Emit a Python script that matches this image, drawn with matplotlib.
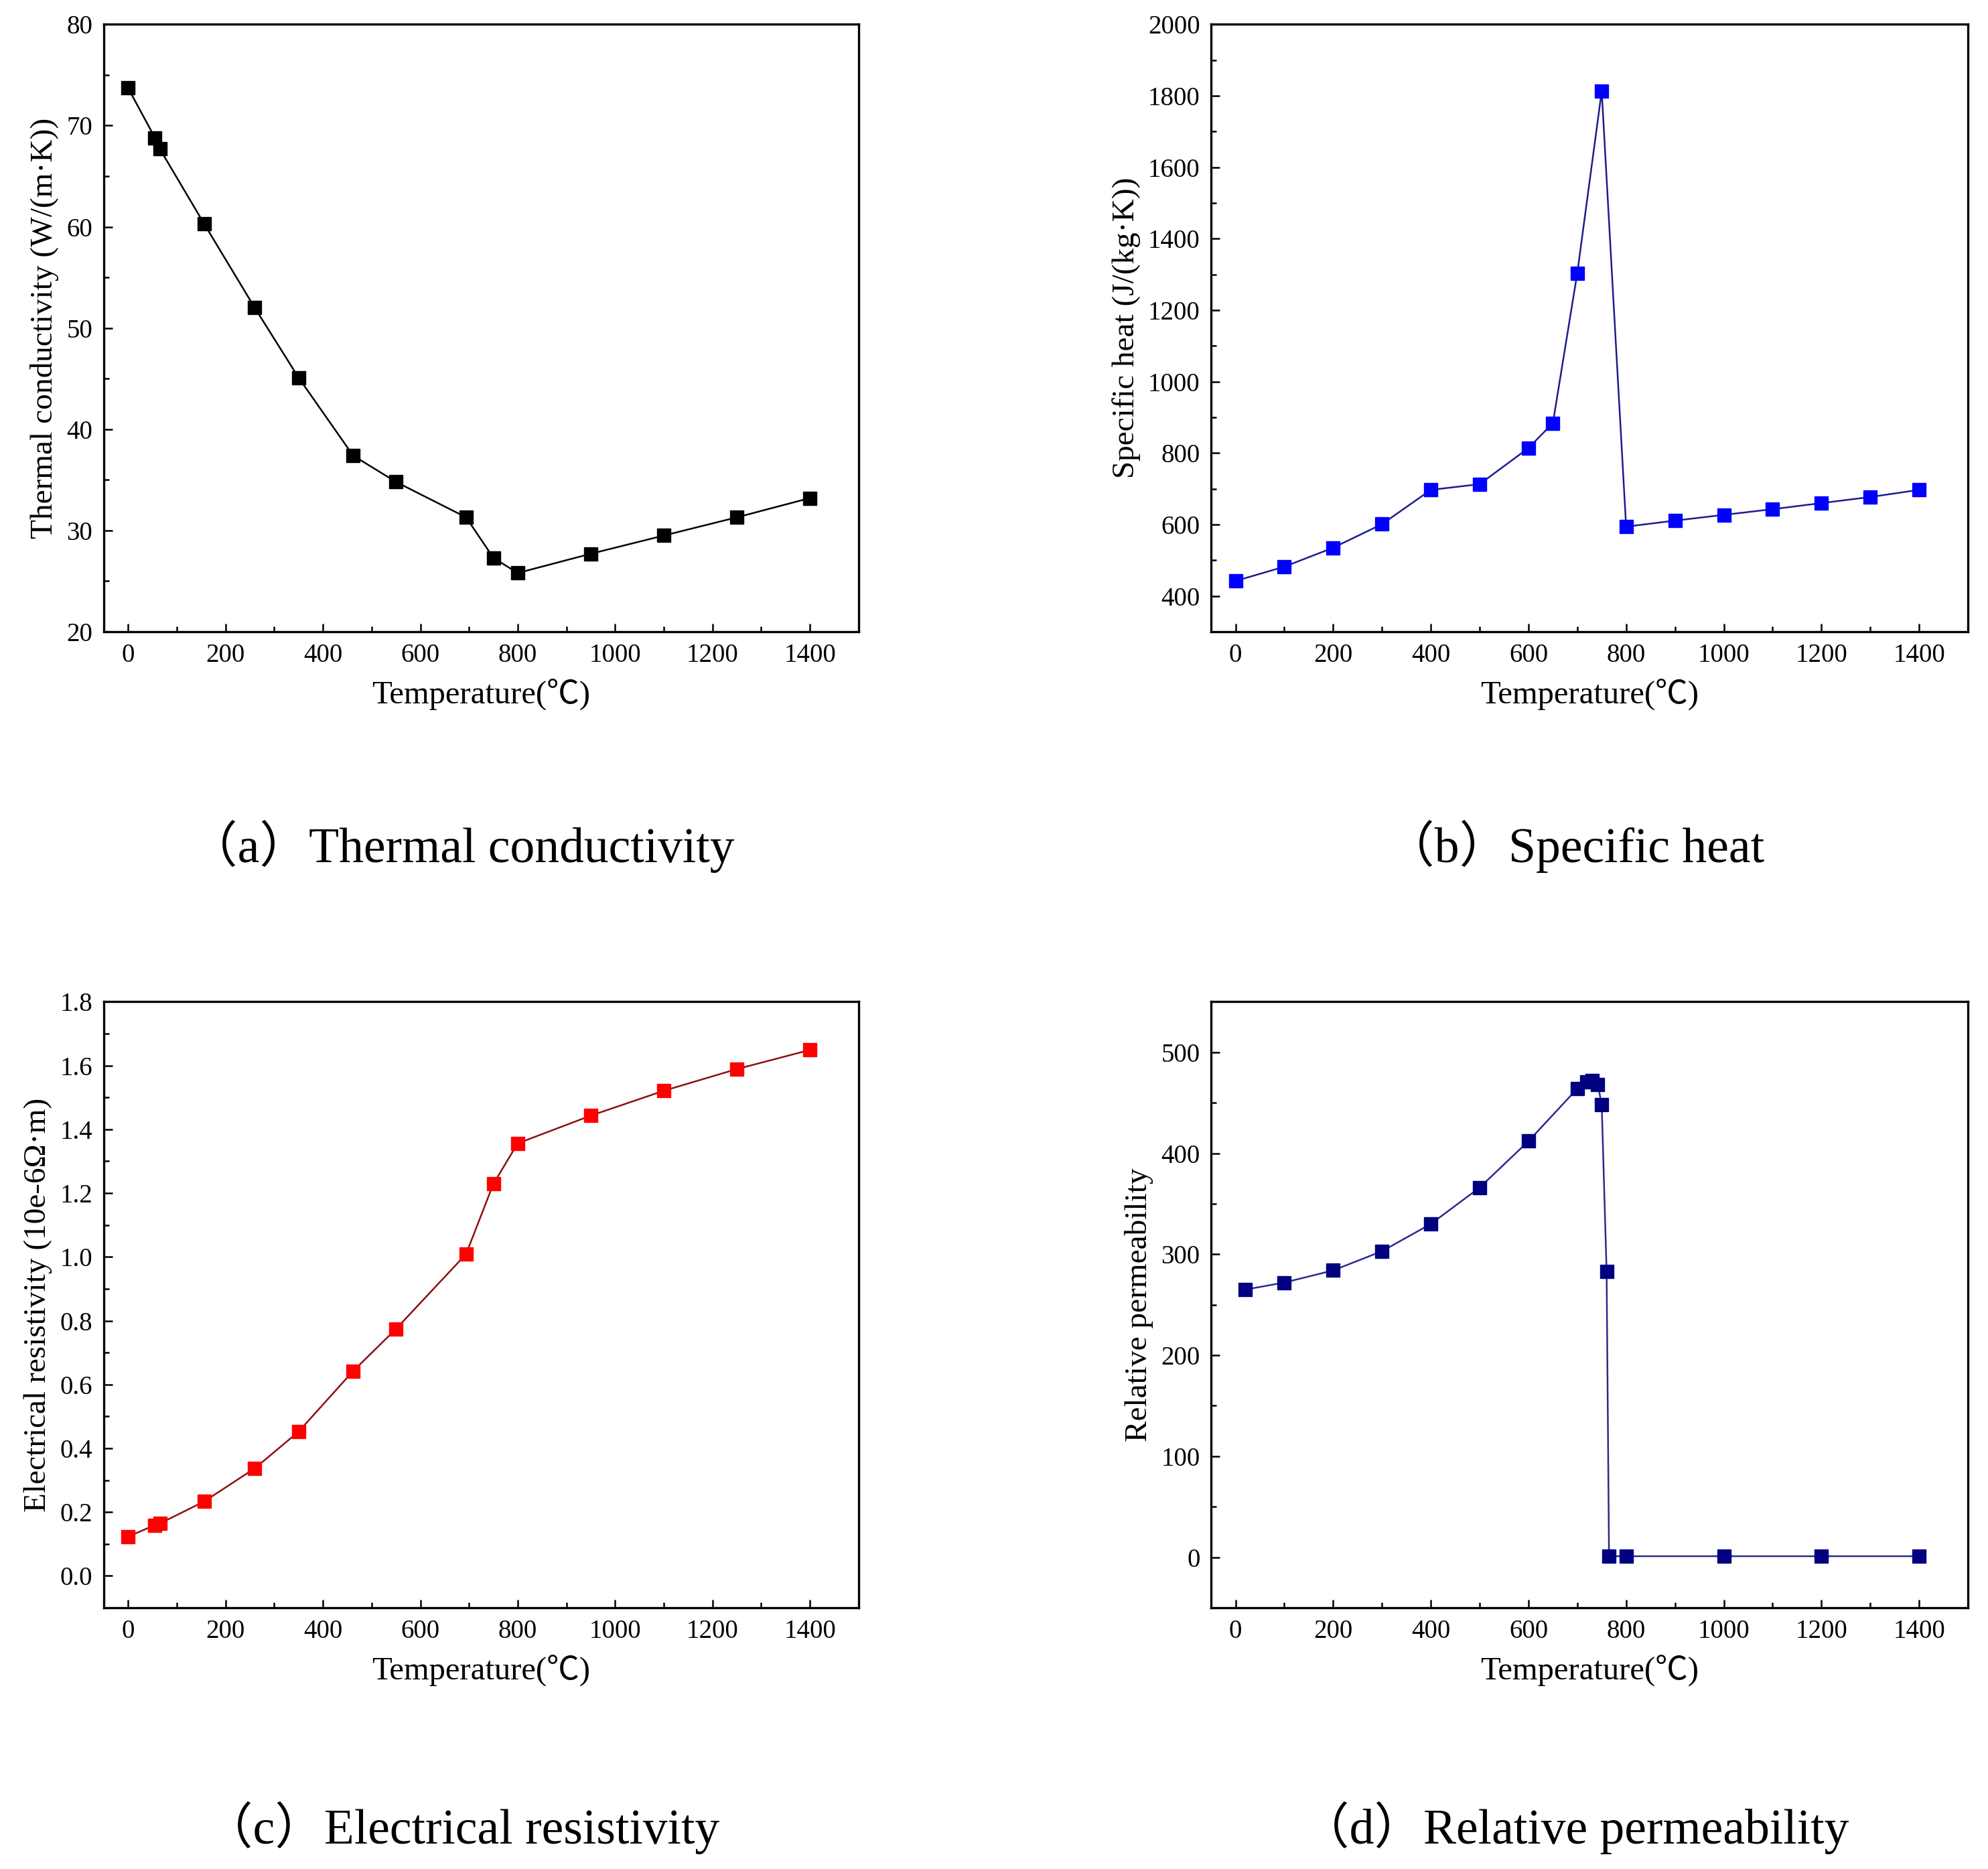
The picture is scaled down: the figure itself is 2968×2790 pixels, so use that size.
import matplotlib
matplotlib.use("Agg")
import matplotlib.pyplot as plt
from matplotlib.ticker import MultipleLocator

plt.rcParams['font.family'] = ['Liberation Serif', 'Noto Sans CJK SC']

# (a) thermal conductivity / (c) electrical resistivity share the same temperatures
temp_ac = [0, 55, 65, 156, 260, 350, 462, 550, 694, 750, 800, 950, 1100, 1250, 1400]
conductivity = [73.7, 68.8, 67.7, 60.3, 52.0, 45.1, 37.4, 34.8, 31.3, 27.3, 25.8, 27.7, 29.5, 31.3, 33.2]
resistivity = [0.123, 0.159, 0.164, 0.233, 0.337, 0.452, 0.642, 0.774, 1.009, 1.229, 1.356, 1.443, 1.521, 1.589, 1.649]

# (b) specific heat
temp_b = [0, 100, 200, 300, 400, 500, 600, 650, 700, 750, 800, 900, 1000, 1100, 1200, 1300, 1400]
specific_heat = [442, 482, 535, 601, 697, 713, 814, 884, 1304, 1813, 594, 611, 627, 643, 660, 677, 697]

# (d) relative permeability
temp_d = [20, 100, 200, 300, 400, 500, 600, 700, 720, 730, 742, 750, 760, 765, 800, 1000, 1200, 1400]
permeability = [265, 272, 284, 303, 330, 366, 412, 464, 471, 472, 468, 448, 283, 1, 1, 1, 1, 1]

captions = ["（a）Thermal conductivity", "（b）Specific heat",
            "（c）Electrical resistivity", "（d）Relative permeability"]

fig = plt.figure(figsize=(29.68, 27.9), dpi=100)

def setup(ax, ylim, ymajor, yminor, ylabel, yfmt=None):
    ax.set_xlim(-50, 1500)
    ax.set_ylim(*ylim)
    ax.xaxis.set_major_locator(MultipleLocator(200))
    ax.xaxis.set_minor_locator(MultipleLocator(100))
    ax.yaxis.set_major_locator(MultipleLocator(ymajor))
    ax.yaxis.set_minor_locator(MultipleLocator(yminor))
    if yfmt:
        ax.yaxis.set_major_formatter(yfmt)
    ax.tick_params(which='both', direction='in', top=False, right=False,
                   labelsize=28, width=1.8, pad=12)
    ax.tick_params(which='major', length=9)
    ax.tick_params(which='minor', length=6)
    for s in ax.spines.values():
        s.set_linewidth(2.4)
    ax.set_xlabel("Temperature(℃)", fontsize=35, labelpad=12)
    ax.set_ylabel(ylabel, fontsize=34, labelpad=8)

ax_a = fig.add_axes([0.0522, 0.662, 0.3797, 0.325])
ax_b = fig.add_axes([0.6092, 0.662, 0.3807, 0.325])
ax_c = fig.add_axes([0.0522, 0.1398, 0.3797, 0.3242])
ax_d = fig.add_axes([0.6092, 0.1398, 0.3807, 0.3242])

ax_a.plot(temp_ac, conductivity, '-', color='black', lw=1.8,
          marker='s', ms=15, mfc='black', mec='black')
setup(ax_a, (20, 80), 10, 5, "Thermal conductivity (W/(m·K))")

ax_b.plot(temp_b, specific_heat, '-', color='#1c1c8e', lw=1.8,
          marker='s', ms=15, mfc='#0000ff', mec='#0000ff')
setup(ax_b, (300, 2000), 200, 100, "Specific heat (J/(kg·K))")

ax_c.plot(temp_ac, resistivity, '-', color='#8b1010', lw=1.8,
          marker='s', ms=15, mfc='#ff0000', mec='#ff0000')
setup(ax_c, (-0.1, 1.8), 0.2, 0.1, "Electrical resistivity (10e-6Ω·m)",
      yfmt=matplotlib.ticker.FormatStrFormatter('%.1f'))

ax_d.plot(temp_d, permeability, '-', color='#2a2a90', lw=1.8,
          marker='s', ms=15, mfc='#000080', mec='#000080')
setup(ax_d, (-50, 550), 100, 50, "Relative permeability")

cap_pos = [(0.232, 0.547), (0.792, 0.547), (0.232, 0.0222), (0.792, 0.0222)]
for (x, y), text in zip(cap_pos, captions):
    fig.text(x, y, text, ha='center', va='center', fontsize=53)

fig.savefig("out.png", dpi=100)
